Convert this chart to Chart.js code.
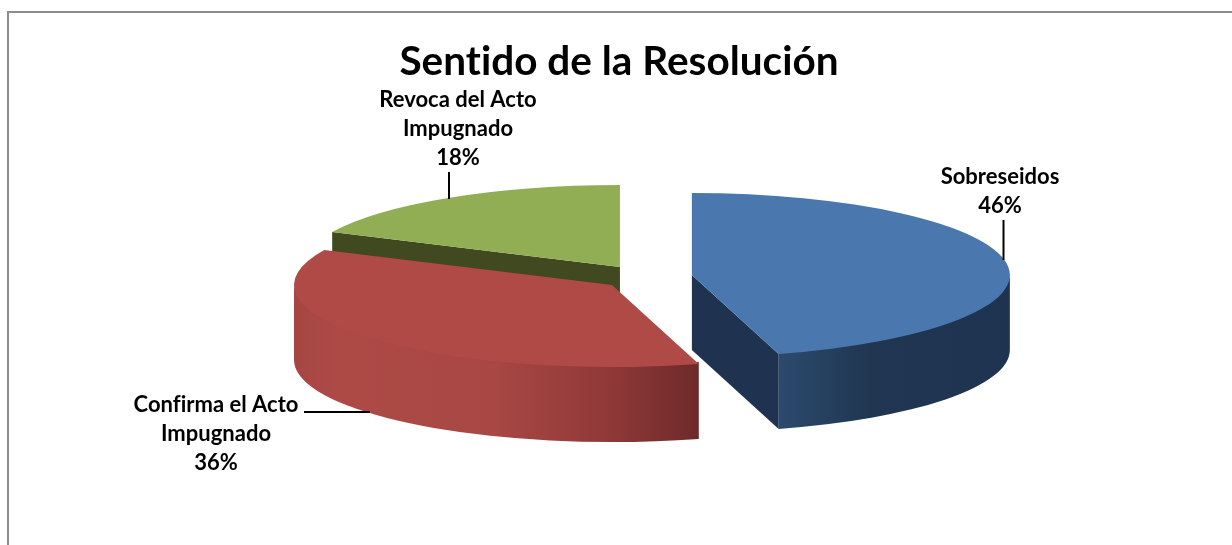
<!DOCTYPE html>
<html>
<head>
<meta charset="utf-8">
<title>Sentido de la Resolución</title>
<script src="https://cdn.jsdelivr.net/npm/chart.js@4.4.6/dist/chart.umd.min.js"></script>
<style>
  html, body { margin: 0; height: 100%; background: #fff; overflow: hidden; }
  #frame { position: absolute; left: 7px; top: 11px; width: 1400px; height: 800px; border: 2px solid #8c8c8c; }
  #wrap { position: absolute; left: 0; top: 0; width: 1232px; height: 545px; }
</style>
</head>
<body>
<div id="frame"></div>
<div id="wrap"><canvas id="chart"></canvas></div>
<script>
// datos
const categories = ['Sobreseidos', 'Confirma el Acto Impugnado', 'Revoca del Acto Impugnado']
const values = [45.6, 36.4, 18]
const labelLines = [['Sobreseidos'], ['Confirma el Acto', 'Impugnado'], ['Revoca del Acto', 'Impugnado']]
const explode = [16.6, 11.9, 12.2]

const topColors = ['#4a78ae', '#af4a47', '#92ae54']
const cutColors = ['#1f3350', '#8a3535', '#40491f']
const wallStops = [
  [[0, '#2c4a6d'], [0.4, '#203651'], [1, '#1e3350']],
  [[0, '#a54643'], [0.1, '#ad4a46'], [0.5, '#a84744'], [0.78, '#8f3938'], [1, '#6e2a2a']],
  [[0, '#40491f'], [1, '#40491f']]
]

// vista 3D
const RX = 318
const RY = 82
const DEPTH = 75
const EXPLODE_X = 3.13
const PIE_SHIFT_X = 21.4 // el titulo no esta centrado sobre la torta

const FONT = 'Lato, sans-serif'

// posicion de las etiquetas : centro x, y de la 1a linea, linea guia
const labelPos = [
  { x: 1000, y: 176.5, lead: [[1003.5, 220], [1003.5, 260]] },
  { x: 216, y: 404.5, lead: [[304, 412], [370, 412]] },
  { x: 458, y: 99.5, lead: [[449, 172], [449, 199]] }
]

function sliceCenter (arc, i) {
  const mid = (arc.startAngle + arc.endAngle) / 2
  return {
    x: arc.x + PIE_SHIFT_X + Math.cos(mid) * explode[i] * EXPLODE_X,
    y: arc.y + Math.sin(mid) * explode[i]
  }
}

function drawSides (ctx, arc, i) {
  const c = sliceCenter(arc, i)
  const a0 = arc.startAngle
  const a1 = arc.endAngle

  // caras de corte visibles
  const edges = []
  if (Math.cos(a1) > 0.001) edges.push(a1)
  if (Math.cos(a0) < -0.001) edges.push(a0)
  edges.forEach(a => {
    const ex = c.x + Math.cos(a) * RX
    const ey = c.y + Math.sin(a) * RY
    ctx.beginPath()
    ctx.moveTo(c.x, c.y)
    ctx.lineTo(ex, ey)
    ctx.lineTo(ex, ey + DEPTH)
    ctx.lineTo(c.x, c.y + DEPTH)
    ctx.closePath()
    ctx.fillStyle = cutColors[i]
    ctx.fill()
  })

  // pared exterior, solo la mitad delantera (sube 2px bajo la tapa para no dejar costura)
  const from = Math.max(a0, 0)
  const to = Math.min(a1, Math.PI)
  if (to <= from) return
  const xa = c.x + Math.cos(from) * RX
  const xb = c.x + Math.cos(to) * RX
  const g = ctx.createLinearGradient(Math.min(xa, xb), 0, Math.max(xa, xb), 0)
  wallStops[i].forEach(s => g.addColorStop(s[0], s[1]))
  ctx.beginPath()
  ctx.ellipse(c.x, c.y - 2, RX, RY, 0, from, to)
  ctx.ellipse(c.x, c.y + DEPTH, RX, RY, 0, to, from, true)
  ctx.closePath()
  ctx.fillStyle = g
  ctx.fill()
}

const pie3d = {
  id: 'pie3d',
  beforeDraw (chart) {
    // sin ligaduras "ti" / "fi"
    chart.ctx.letterSpacing = '0.01px'
  },
  beforeDatasetDraw (chart, args) {
    const ctx = chart.ctx
    const arcs = args.meta.data
    // de atras hacia adelante
    for (let i = arcs.length - 1; i >= 0; i--) {
      const arc = arcs[i]
      const c = sliceCenter(arc, i)
      const R = arc.outerRadius
      drawSides(ctx, arc, i)
      ctx.save()
      ctx.translate(c.x, c.y)
      ctx.scale(RX / R, RY / R)
      ctx.translate(-arc.x, -arc.y)
      arc.draw(ctx)
      ctx.restore()
    }
    return false
  },
  afterDatasetsDraw (chart) {
    const ctx = chart.ctx
    const total = values.reduce((a, b) => a + b, 0)
    ctx.save()
    ctx.fillStyle = '#000'
    ctx.strokeStyle = '#000'
    ctx.font = 'bold 22px ' + FONT
    ctx.textAlign = 'center'
    ctx.textBaseline = 'middle'
    labelLines.forEach((lines, i) => {
      const p = labelPos[i]
      const all = lines.concat(Math.round(values[i] / total * 100) + '%')
      all.forEach((t, k) => ctx.fillText(t, p.x, p.y + k * 29.3))
      ctx.lineWidth = 2
      ctx.beginPath()
      ctx.moveTo(p.lead[0][0], p.lead[0][1])
      ctx.lineTo(p.lead[1][0], p.lead[1][1])
      ctx.stroke()
    })
    ctx.restore()
  }
}

new Chart(document.getElementById('chart'), {
  type: 'pie',
  data: {
    labels: categories,
    datasets: [{ data: values, backgroundColor: topColors, borderWidth: 0 }]
  },
  options: {
    responsive: true,
    maintainAspectRatio: false,
    animation: false,
    layout: { padding: { left: 6, bottom: 77 } },
    plugins: {
      legend: { display: false },
      tooltip: { enabled: false },
      title: {
        display: true,
        text: 'Sentido de la Resolución',
        color: '#000',
        font: { family: FONT, size: 40.5, weight: 'bold', lineHeight: 1.2 },
        padding: { top: 38, bottom: 0 }
      }
    }
  },
  plugins: [pie3d]
})
</script>
</body>
</html>
